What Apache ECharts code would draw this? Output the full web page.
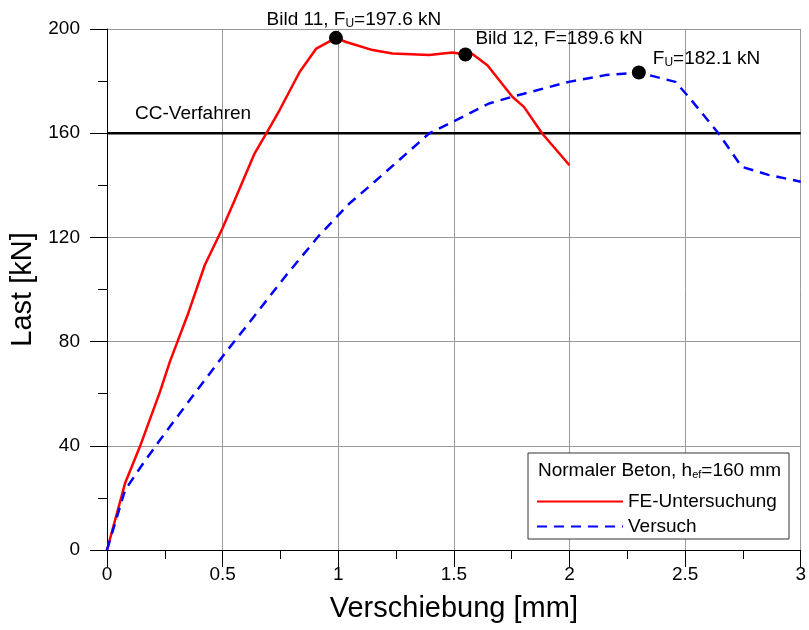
<!DOCTYPE html>
<html>
<head>
<meta charset="utf-8">
<script src="https://cdn.jsdelivr.net/npm/echarts@6/dist/echarts.min.js"></script>
<style>
html, body { margin: 0; padding: 0; background: #fff; }
#main { width: 809px; height: 630px; }
</style>
</head>
<body>
<div id="main"></div>
<script>
// FE-Untersuchung (rot)
const feX = [0, 0.078, 0.142, 0.229, 0.272, 0.351, 0.423, 0.499, 0.552, 0.638, 0.689, 0.746, 0.833, 0.905, 0.99, 1.034, 1.149, 1.235, 1.393, 1.494, 1.55, 1.58, 1.645, 1.753, 1.803, 1.882, 2.0];
const feY = [0, 25.6, 39.6, 60.7, 72.3, 90.8, 109.4, 123.4, 134.3, 152.2, 159.9, 168.8, 183.5, 192.5, 196.6, 195, 191.9, 190.6, 190, 191, 190.2, 190.4, 186.1, 174, 170.1, 159.9, 147.7];
// Versuch (blau, gestrichelt)
const vX = [0, 0.078, 0.157, 0.229, 0.358, 0.499, 0.646, 0.775, 0.919, 1.048, 1.149, 1.393, 1.48, 1.652, 1.753, 1.997, 2.156, 2.3, 2.458, 2.515, 2.645, 2.745, 2.86, 3.0];
const vY = [0, 23, 33.3, 42.2, 57.6, 74.2, 90.8, 105.5, 120.9, 133, 140.7, 159.9, 163.7, 171.4, 174, 179.7, 182.3, 183.3, 179.7, 174, 159.9, 147.1, 144, 141.4];
// markierte Punkte
const markX = [0.99, 1.55, 2.3];
const markY = [196.6, 190.2, 183.3];
const ccLast = 160;

const xTicks = ['0', '0.5', '1', '1.5', '2', '2.5', '3'];
const yTicks = ['0', '40', '80', '120', '160', '200'];

const font = 'Liberation Sans, Arial, sans-serif';
const zip = (a, b) => a.map((v, i) => [v, b[i]]);

const chart = echarts.init(document.getElementById('main'));

const option = {
  animation: false,
  backgroundColor: '#fff',
  textStyle: { fontFamily: font },
  grid: { left: 107, right: 7, top: 29, bottom: 80 },
  xAxis: {
    type: 'value', min: 0, max: 3, interval: 0.5,
    name: 'Verschiebung [mm]', nameLocation: 'middle', nameGap: 44,
    nameTextStyle: { fontSize: 29, color: '#000', fontFamily: font },
    axisLine: { lineStyle: { color: '#000', width: 1 } },
    axisTick: { length: 17, lineStyle: { color: '#000' } },
    minorTick: { show: true, splitNumber: 2, length: 9, lineStyle: { color: '#000' } },
    axisLabel: { fontSize: 19, color: '#000', margin: 15, formatter: v => xTicks[Math.round(v * 2)] },
    splitLine: { show: true, lineStyle: { color: '#999', width: 1 } }
  },
  yAxis: {
    type: 'value', min: 0, max: 200, interval: 40,
    name: 'Last [kN]', nameLocation: 'middle', nameGap: 59, nameRotate: 90,
    nameTextStyle: { fontSize: 29, color: '#000', fontFamily: font },
    axisLine: { show: true, lineStyle: { color: '#000', width: 1 } },
    axisTick: { show: true, length: 17, lineStyle: { color: '#000' } },
    minorTick: { show: true, splitNumber: 2, length: 9, lineStyle: { color: '#000' } },
    axisLabel: { fontSize: 19, color: '#000', margin: 27, formatter: v => yTicks[Math.round(v / 40)] },
    splitLine: { show: true, lineStyle: { color: '#999', width: 1 } }
  },
  legend: {
    orient: 'vertical', left: 531, top: 487, itemGap: 6, z: 100,
    itemWidth: 86, itemHeight: 20,
    itemStyle: { opacity: 0 },
    textStyle: { fontSize: 19, color: '#000', fontFamily: font },
    data: ['FE-Untersuchung', 'Versuch']
  },
  graphic: [
    {
      type: 'rect', z: 90,
      shape: { x: 528, y: 453, width: 261, height: 86 },
      style: { fill: '#fff', stroke: '#333', lineWidth: 1 }
    },
    {
      type: 'text', z: 91, left: 538, top: 461,
      style: {
        text: '{a|Normaler Beton, h}{s|ef}{a|=160 mm}',
        rich: {
          a: { fontSize: 19, fontFamily: font, fill: '#000' },
          s: { fontSize: 11, fontFamily: font, fill: '#000', verticalAlign: 'bottom', padding: [9, 0, 0, 0] }
        }
      }
    },
    {
      type: 'text', left: 135, top: 104,
      style: { text: 'CC-Verfahren', fontSize: 19, fontFamily: font, fill: '#000' }
    }
  ],
  series: [
    {
      name: 'CC-Verfahren', type: 'line', data: [[0, ccLast], [3, ccLast]],
      symbol: 'none', lineStyle: { color: '#000', width: 2.5 }, z: 3
    },
    {
      name: 'FE-Untersuchung', type: 'line', data: zip(feX, feY),
      symbol: 'none', lineStyle: { color: '#ff0000', width: 2.5 }, itemStyle: { color: '#ff0000' }, z: 4
    },
    {
      name: 'Versuch', type: 'line', data: zip(vX, vY),
      symbol: 'none', lineStyle: { color: '#0000ff', width: 2.5, type: [10, 7] }, itemStyle: { color: '#0000ff' }, z: 4
    },
    {
      name: 'Punkte', type: 'scatter', symbolSize: 14, z: 5,
      itemStyle: { color: '#000', opacity: 1 },
      label: {
        show: true, color: '#000', fontFamily: font,
        rich: {
          a: { fontSize: 19, fontFamily: font, color: '#000' },
          s: { fontSize: 12, fontFamily: font, color: '#000', verticalAlign: 'bottom', padding: [9, 0, 0, 0] }
        }
      },
      data: [
        { value: [markX[0], markY[0]], label: { position: 'top', offset: [18, 4], formatter: '{a|Bild 11, F}{s|U}{a|=197.6 kN}' } },
        { value: [markX[1], markY[1]], label: { position: 'right', offset: [-2, -16], formatter: '{a|Bild 12, F=189.6 kN}' } },
        { value: [markX[2], markY[2]], label: { position: 'right', offset: [2, -14], formatter: '{a|F}{s|U}{a|=182.1 kN}' } }
      ]
    }
  ]
};

chart.setOption(option);
</script>
</body>
</html>
